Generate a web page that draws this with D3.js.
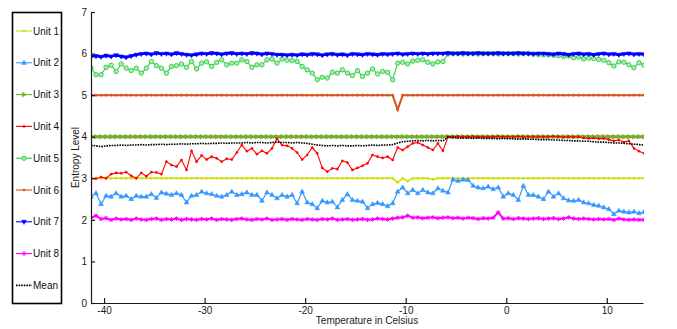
<!DOCTYPE html>
<html><head><meta charset="utf-8">
<script src="https://cdn.jsdelivr.net/npm/d3@7"></script>
<style>body{margin:0;background:#fff}svg{display:block;font-family:"Liberation Sans",Arial,sans-serif}</style>
</head><body>
<svg id="c" width="677" height="329"></svg>
<script>
// temperature grid (x values, degrees Celsius)
const temps = d3.range(111).map(i => -41.3 + 0.5 * i);
const xTicks = [-40, -30, -20, -10, 0, 10];
const yTicks = [0, 1, 2, 3, 4, 5, 6, 7];
const seriesNames = ["Unit 1","Unit 2","Unit 3","Unit 4","Unit 5","Unit 6","Unit 7","Unit 8","Mean"];

const unit1 = [3,3,3,3,3,3,3,3,3,3, 3,3,3,3,3,3,3,3,3,3, 3,3,3,3,3,3,3,3,3,3, 3,3,3,3,3,3,3,3,3,3,
  3,3,3,3,3,3,3,3,3,3, 3,3,3,3,3,3,3,3,3,3, 3,2.9,3,2.93,3,3,3,3,2.97,3, 3,3,3,3,3,3,3,3,3,3,
  3,3,3,3,3,3,3,3,3,3, 3,3,3,3,3,3,3,3,3,3, 3,3,3,3,3,3,3,3,3,3,3];
const unit2 = [2.56,2.64,2.38,2.58,2.56,2.64,2.56,2.58,2.5,2.58,
  2.56,2.56,2.62,2.53,2.66,2.63,2.6,2.64,2.6,2.42,
  2.58,2.6,2.68,2.64,2.62,2.58,2.56,2.6,2.68,2.6,
  2.62,2.66,2.6,2.6,2.46,2.66,2.6,2.52,2.6,2.56,
  2.6,2.4,2.68,2.42,2.38,2.28,2.46,2.42,2.44,2.3,
  2.48,2.62,2.48,2.46,2.44,2.28,2.38,2.41,2.38,2.33,
  2.4,2.68,2.78,2.64,2.72,2.64,2.72,2.66,2.64,2.76,
  2.7,2.66,2.97,2.94,2.97,2.96,2.82,2.78,2.76,2.8,
  2.74,2.78,2.56,2.64,2.6,2.48,2.82,2.6,2.6,2.56,
  2.5,2.68,2.56,2.64,2.52,2.47,2.46,2.48,2.42,2.4,
  2.36,2.34,2.3,2.26,2.14,2.22,2.2,2.18,2.2,2.16,2.19];
const unit3 = [4,4,4,4,4,4,4,4,4,4, 4,4,4,4,4,4,4,4,4,4, 4,4,4,4,4,4,4,4,4,4, 4,4,4,4,4,4,4,4,4,4,
  4,4,4,4,4,4,4,4,4,4, 4,4,4,4,4,4,4,4,4,4, 4,4,4,4,4,4,4,4,4,4, 4,4,4,4,4,4,4,4,4,4,
  4,4,4,4,4,4,4,4,4,4, 4,4,4,4,4,4,4,4,4,4, 4,4,4,4,4,4,4,4,4,4,4];
const unit4 = [3.0,2.99,3.03,3.0,3.1,3.13,3.12,3.15,3.06,3.0,
  3.13,3.05,3.15,3.14,3.1,3.4,3.32,3.28,3.44,3.2,
  3.66,3.4,3.55,3.45,3.52,3.48,3.4,3.47,3.45,3.62,
  3.8,3.65,3.72,3.58,3.66,3.6,3.72,3.95,3.8,3.78,
  3.72,3.62,3.45,3.56,3.74,3.6,3.25,3.16,3.24,3.22,
  3.42,3.38,3.2,3.25,3.3,3.36,3.56,3.52,3.49,3.52,
  3.44,3.74,3.68,3.76,3.84,3.86,3.8,3.74,3.68,3.84,
  3.66,4.0,4.0,4.01,4.0,4.0,4.01,4.0,4.0,4.0,
  4.0,4.01,4.0,4.0,4.0,4.01,4.0,4.0,4.0,4.0,
  4.0,4.0,4.01,4.0,3.99,4.0,3.99,4.0,3.97,3.96,
  3.97,3.95,3.96,3.93,3.9,3.92,3.87,3.9,3.72,3.65,3.6];
const unit5 = [5.65,5.49,5.49,5.67,5.72,5.57,5.75,5.65,5.59,5.65,
  5.53,5.65,5.81,5.71,5.65,5.53,5.69,5.71,5.75,5.67,
  5.81,5.63,5.77,5.8,5.69,5.79,5.85,5.73,5.77,5.77,
  5.85,5.81,5.67,5.73,5.73,5.85,5.87,5.77,5.87,5.84,
  5.83,5.81,5.69,5.61,5.53,5.37,5.43,5.41,5.55,5.53,
  5.61,5.53,5.47,5.59,5.45,5.53,5.63,5.51,5.57,5.55,
  5.37,5.77,5.79,5.75,5.82,5.84,5.85,5.79,5.75,5.8,
  5.81,5.99,6.0,6.0,5.99,6.0,6.0,5.99,6.0,6.0,
  6.0,5.99,6.0,6.0,6.0,5.99,6.0,6.0,5.99,5.98,
  5.97,5.97,5.96,5.95,5.93,5.94,5.9,5.92,5.87,5.89,
  5.88,5.86,5.84,5.78,5.7,5.8,5.79,5.73,5.66,5.78,5.72];
const unit6 = [5,5,5,5,5,5,5,5,5,5, 5,5,5,5,5,5,5,5,5,5, 5,5,5,5,5,5,5,5,5,5, 5,5,5,5,5,5,5,5,5,5,
  5,5,5,5,5,5,5,5,5,5, 5,5,5,5,5,5,5,5,5,5, 5,4.65,5,5,5,5,5,5,5,5, 5,5,5,5,5,5,5,5,5,5,
  5,5,5,5,5,5,5,5,5,5, 5,5,5,5,5,5,5,5,5,5, 5,5,5,5,5,5,5,5,5,5,5];
const unit7 = [5.93,5.94,5.92,5.95,5.93,5.96,5.93,5.91,5.94,5.97,
  5.99,6.0,5.98,6.01,5.99,6.0,5.98,6.01,5.99,5.97,
  5.96,5.98,6.0,5.99,6.01,6.0,5.98,6.0,6.01,5.99,
  6.0,5.99,6.01,6.0,5.98,6.0,5.99,5.97,5.97,5.96,
  5.97,5.96,5.98,5.97,5.99,5.98,5.96,5.98,5.99,5.97,
  5.98,5.96,5.99,5.98,5.97,5.99,5.98,5.97,5.99,5.98,
  5.99,6.0,5.98,5.99,6.0,5.99,6.0,5.99,6.0,6.0,
  6.0,6.01,6.0,6.0,6.01,6.0,6.0,6.01,6.0,6.0,
  6.0,6.01,6.0,6.0,6.0,6.01,6.0,6.0,5.99,6.0,
  6.0,5.99,5.98,6.0,5.99,5.97,5.99,6.0,5.98,5.99,
  5.97,5.99,6.0,5.98,5.99,5.97,5.99,6.0,5.98,5.99,5.98];
const unit8 = [2.05,2.1,2.02,2.04,2.0,2.03,2.01,2.02,2.0,2.03,
  2.01,2.0,2.02,2.03,2.0,2.02,2.01,2.03,2.0,2.02,
  2.01,2.0,2.02,2.01,2.03,2.0,2.02,2.01,2.0,2.02,
  2.03,2.01,2.0,2.02,2.01,2.03,2.0,2.01,2.02,2.0,
  2.02,2.01,2.0,2.02,2.01,2.0,2.02,2.01,2.03,2.0,
  2.01,2.02,2.0,2.01,2.02,2.0,2.01,2.03,2.02,2.01,
  2.03,2.05,2.06,2.1,2.05,2.06,2.04,2.05,2.06,2.04,
  2.05,2.06,2.04,2.05,2.03,2.05,2.04,2.02,2.04,2.03,
  2.05,2.18,2.03,2.04,2.02,2.04,2.03,2.02,2.03,2.04,
  2.02,2.03,2.04,2.02,2.03,2.06,2.03,2.02,2.03,2.02,
  2.01,2.02,2.01,2.02,2.0,2.03,2.01,2.0,2.01,2.0,2.0];
const meanVals = [3.79,3.78,3.76,3.78,3.79,3.79,3.8,3.79,3.8,3.8,
  3.81,3.8,3.81,3.81,3.82,3.81,3.82,3.82,3.83,3.82,
  3.83,3.83,3.84,3.83,3.84,3.84,3.85,3.84,3.85,3.85,
  3.85,3.86,3.85,3.86,3.86,3.85,3.86,3.87,3.86,3.86,
  3.85,3.86,3.85,3.84,3.82,3.8,3.79,3.78,3.79,3.78,
  3.79,3.78,3.78,3.79,3.78,3.79,3.8,3.79,3.8,3.8,
  3.81,3.85,3.88,3.89,3.9,3.91,3.9,3.91,3.9,3.91,
  3.9,3.99,3.98,3.97,3.97,3.97,3.96,3.97,3.96,3.96,
  3.96,3.95,3.96,3.95,3.95,3.94,3.95,3.94,3.94,3.93,
  3.93,3.93,3.92,3.92,3.91,3.91,3.9,3.9,3.89,3.89,
  3.88,3.87,3.87,3.86,3.85,3.85,3.84,3.83,3.82,3.81,3.8];

const seriesValues = [unit1, unit2, unit3, unit4, unit5, unit6, unit7, unit8, meanVals];
const colors = ["#ccdd00","#3399ff","#77ac30","#ff0000","#2ecc40","#d95319","#0000ff","#ff00ff","#000000"];
const markers = ["dot","triUp","triRight","dot","circle","dot","triDown","star","none"];
const widths = [1.5, 1.2, 3, 1.1, 1.1, 2, 2.6, 2, 1.6];

const svg = d3.select("#c");
const x = d3.scaleLinear().domain([-41.3, 13.6]).range([91, 643]);
const y = d3.scaleLinear().domain([0, 7]).range([303, 12]);

svg.append("defs").append("clipPath").attr("id","clip")
  .append("rect").attr("x", x.range()[0]).attr("y", 0).attr("width", x.range()[1]-x.range()[0]+1).attr("height", 329);

const plot = svg.append("g").attr("clip-path","url(#clip)");

function markerPath(kind) {
  switch(kind) {
    case "triUp": return "M0,-2.6L2.4,1.6L-2.4,1.6Z";
    case "triDown": return "M0,2.6L2.4,-1.6L-2.4,-1.6Z";
    case "triRight": return "M2.6,0L-1.6,2.4L-1.6,-2.4Z";
    case "circle": return "M2.2,0A2.2,2.2 0 1,1 -2.2,0A2.2,2.2 0 1,1 2.2,0Z";
    case "dot": return "M1.1,0A1.1,1.1 0 1,1 -1.1,0A1.1,1.1 0 1,1 1.1,0Z";
    case "star": return "M-2.2,0L2.2,0M0,-2.2L0,2.2M-1.6,-1.6L1.6,1.6M-1.6,1.6L1.6,-1.6";
  }
  return null;
}
function styleMarker(sel, kind, col) {
  if (kind === "circle") sel.attr("fill", "#a8eeb0").attr("stroke", col).attr("stroke-width", 0.9);
  else if (kind === "star") sel.attr("fill", "none").attr("stroke", col).attr("stroke-width", 1);
  else sel.attr("fill", col).attr("stroke", col).attr("stroke-width", 0.5);
}

const line = d3.line().x(d => x(d[0])).y(d => y(d[1]));

seriesValues.forEach((vals, s) => {
  const data = temps.map((t, i) => [t, vals[i]]);
  const g = plot.append("g");
  const isMean = s === 8;
  g.append("path").datum(data).attr("d", line)
    .attr("fill", "none").attr("stroke", colors[s])
    .attr("stroke-width", widths[s])
    .attr("stroke-dasharray", isMean ? "1.6,1" : null);
  const mp = markerPath(markers[s]);
  if (mp) {
    const m = g.selectAll("path.m").data(data).enter().append("path").attr("class","m")
      .attr("d", mp).attr("transform", d => `translate(${x(d[0])},${y(d[1])})`);
    styleMarker(m, markers[s], colors[s]);
  }
});

// axes
const axisColor = "#1a1a1a";
const xAxis = svg.append("g").attr("transform", `translate(0,${y(0)})`)
  .call(d3.axisBottom(x).tickValues(xTicks).tickSizeInner(-5).tickSizeOuter(0).tickPadding(4).tickFormat(d => String(d)));
const yAxis = svg.append("g").attr("transform", `translate(${x.range()[0]},0)`)
  .call(d3.axisLeft(y).tickValues(yTicks).tickSizeInner(-4).tickSizeOuter(0).tickPadding(4).tickFormat(d => String(d)));
[xAxis, yAxis].forEach(a => {
  a.selectAll("path.domain").attr("stroke", axisColor).attr("stroke-width", 1.2);
  a.selectAll(".tick line").attr("stroke", axisColor).attr("stroke-width", 1.2);
  a.selectAll(".tick text").attr("fill", axisColor).attr("font-size", 10)
    .attr("font-family", '"Liberation Sans", Arial, sans-serif');
});

svg.append("text").attr("x", (x.range()[0] + x.range()[1]) / 2).attr("y", 324)
  .attr("text-anchor","middle").attr("font-size", 10).attr("fill", axisColor).text("Temperature in Celsius");
svg.append("text").attr("transform", `translate(79,${(y(0)+y(7))/2}) rotate(-90)`)
  .attr("text-anchor","middle").attr("font-size", 10).attr("fill", axisColor).text("Entropy Level");

// legend
const leg = svg.append("g");
leg.append("rect").attr("x", 12.5).attr("y", 12.5).attr("width", 49).attr("height", 291)
  .attr("fill", "#fff").attr("stroke", "#000").attr("stroke-width", 1.6);
seriesNames.forEach((name, s) => {
  const ly = 31 + s * 31.8;
  const isMean = s === 8;
  leg.append("line").attr("x1", 16).attr("x2", 32).attr("y1", ly).attr("y2", ly)
    .attr("stroke", colors[s]).attr("stroke-width", isMean ? 1.6 : 1.1)
    .attr("stroke-dasharray", isMean ? "1.6,1" : null);
  const mp = markerPath(markers[s]);
  if (mp) {
    const m = leg.append("path").attr("d", mp).attr("transform", `translate(24,${ly})`);
    styleMarker(m, markers[s], colors[s]);
  }
  leg.append("text").attr("x", 33).attr("y", ly + 3.5).attr("font-size", 10).attr("fill", "#111").text(name);
});
</script>
</body></html>
